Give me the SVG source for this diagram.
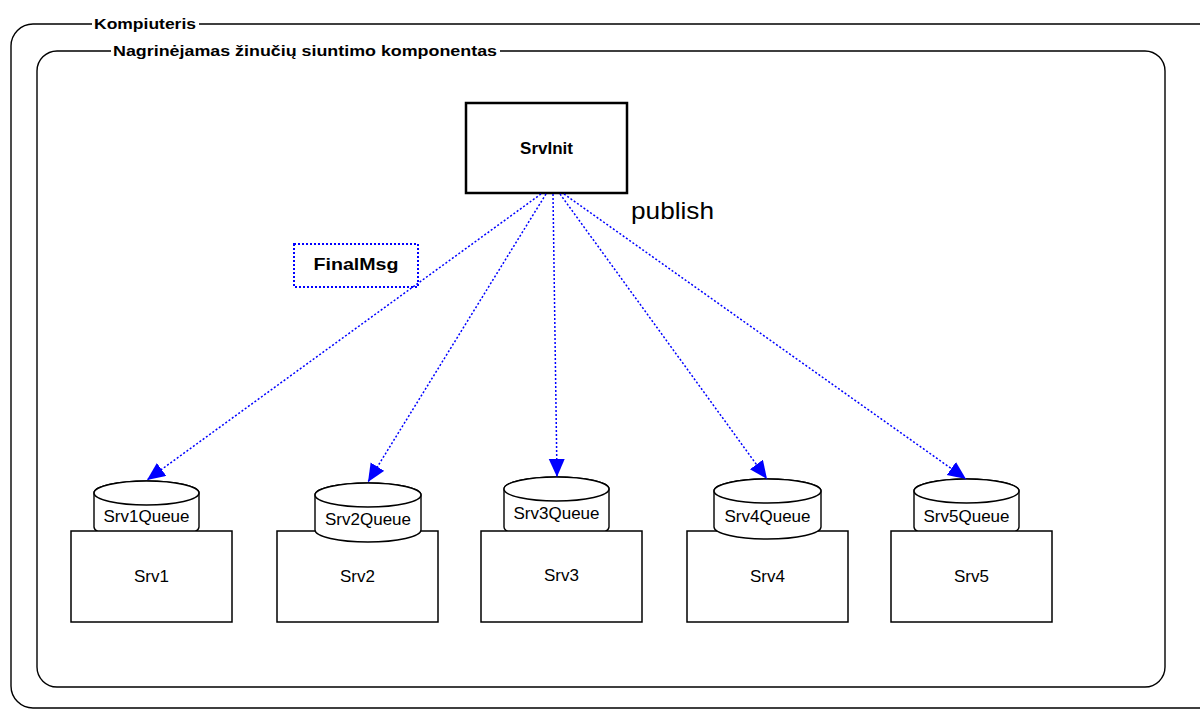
<svg xmlns="http://www.w3.org/2000/svg" width="1200" height="709" viewBox="0 0 1200 709">
  <style>
    .frame { fill: none; stroke: #000; stroke-width: 1.4; }
    .title { font-family: "Liberation Sans", Arial, sans-serif; font-weight: bold; font-size: 15px; fill: #000; }
    .box { fill: #fff; stroke: #000; stroke-width: 1.5; }
    .label { font-family: "Liberation Sans", Arial, sans-serif; font-size: 17px; fill: #000; text-anchor: middle; }
    .bold { font-weight: bold; }
    .cyl { fill: #fff; stroke: #000; stroke-width: 1.4; }
    .flow { fill: none; stroke: #0000ff; stroke-width: 1.5; stroke-dasharray: 2 2; marker-end: url(#arrow); }
  </style>
  <defs>
    <marker id="arrow" markerUnits="userSpaceOnUse" markerWidth="20" markerHeight="18" refX="18" refY="8" orient="auto">
      <path d="M0,0 L18,8 L0,16 Z" fill="#0000ff"/>
    </marker>
  </defs>

  <rect width="1200" height="709" fill="#fff"/>

  <!-- outer frame: Kompiuteris -->
  <g id="kompiuteris">
    <rect class="frame" x="11" y="24" width="1220" height="684" rx="22"/>
    <rect x="92" y="14" width="107" height="18" fill="#fff"/>
    <text class="title" x="94" y="29" textLength="102" lengthAdjust="spacingAndGlyphs">Kompiuteris</text>
  </g>

  <!-- inner frame: component -->
  <g id="komponentas">
    <rect class="frame" x="37" y="51" width="1128" height="636" rx="20"/>
    <rect x="111" y="41" width="389" height="18" fill="#fff"/>
    <text class="title" x="113" y="56" textLength="384" lengthAdjust="spacingAndGlyphs">Nagrinėjamas žinučių siuntimo komponentas</text>
  </g>

  <!-- publisher -->
  <g id="srvinit">
    <rect x="466" y="103" width="161" height="90" fill="#fff" stroke="#000" stroke-width="2.5"/>
    <text class="label bold" x="546.5" y="154">SrvInit</text>
  </g>

  <g id="publish-label">
    <text x="631" y="219" font-family="Liberation Sans, Arial, sans-serif" font-size="24" textLength="83" lengthAdjust="spacingAndGlyphs">publish</text>
  </g>

  <g id="finalmsg">
    <rect x="294" y="244" width="124" height="43" fill="none" stroke="#0000ff" stroke-width="2" stroke-dasharray="2 2"/>
    <text class="label bold" x="356" y="270" font-size="18" textLength="85" lengthAdjust="spacingAndGlyphs">FinalMsg</text>
  </g>

  <!-- Srv1: queue sits behind the server box -->
  <g id="srv1">
    <path class="cyl" d="M94,493 A52.5,12 0 0 1 199,493 L199,527 A52.5,12 0 0 1 94,527 Z"/>
    <ellipse class="cyl" cx="146.5" cy="493" rx="52.5" ry="12"/>
    <text class="label" x="146.5" y="522">Srv1Queue</text>
    <rect class="box" x="71" y="531" width="161" height="91"/>
    <text class="label" x="151.5" y="582">Srv1</text>
  </g>

  <!-- Srv2: queue drawn over the server box -->
  <g id="srv2">
    <rect class="box" x="277" y="531" width="161" height="91"/>
    <text class="label" x="357.5" y="582">Srv2</text>
    <path class="cyl" d="M315,495 A53,12 0 0 1 421,495 L421,530 A53,12 0 0 1 315,530 Z"/>
    <ellipse class="cyl" cx="368" cy="495" rx="53" ry="12"/>
    <text class="label" x="368" y="525">Srv2Queue</text>
  </g>

  <g id="srv3">
    <path class="cyl" d="M504,489 A52.5,12 0 0 1 609,489 L609,527 A52.5,12 0 0 1 504,527 Z"/>
    <ellipse class="cyl" cx="556.5" cy="489" rx="52.5" ry="12"/>
    <text class="label" x="556.5" y="519">Srv3Queue</text>
    <rect class="box" x="481" y="531" width="161" height="91"/>
    <text class="label" x="561.5" y="581">Srv3</text>
  </g>

  <g id="srv4">
    <rect class="box" x="687" y="531" width="161" height="91"/>
    <text class="label" x="767.5" y="582">Srv4</text>
    <path class="cyl" d="M714,491 A53.5,12 0 0 1 821,491 L821,527 A53.5,12 0 0 1 714,527 Z"/>
    <ellipse class="cyl" cx="767.5" cy="491" rx="53.5" ry="12"/>
    <text class="label" x="767.5" y="522">Srv4Queue</text>
  </g>

  <g id="srv5">
    <path class="cyl" d="M914,491 A52.5,12 0 0 1 1019,491 L1019,527 A52.5,12 0 0 1 914,527 Z"/>
    <ellipse class="cyl" cx="966.5" cy="491" rx="52.5" ry="12"/>
    <text class="label" x="966.5" y="522">Srv5Queue</text>
    <rect class="box" x="891" y="531" width="161" height="91"/>
    <text class="label" x="971.5" y="582">Srv5</text>
  </g>

  <!-- publish connectors -->
  <g id="connectors">
    <line class="flow" x1="541" y1="194" x2="147" y2="480"/>
    <line class="flow" x1="546" y1="194" x2="368" y2="482"/>
    <line class="flow" x1="553" y1="194" x2="557" y2="477"/>
    <line class="flow" x1="560" y1="194" x2="767" y2="479"/>
    <line class="flow" x1="564" y1="194" x2="966" y2="479"/>
  </g>
</svg>
